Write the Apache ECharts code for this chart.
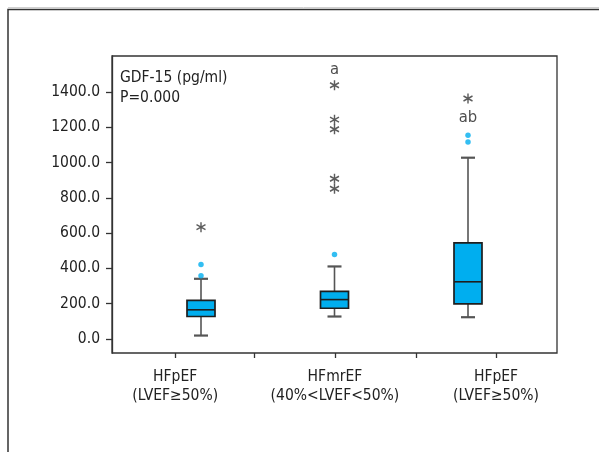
<!DOCTYPE html>
<html><head><meta charset="utf-8">
<script src="https://cdn.jsdelivr.net/npm/echarts@6/dist/echarts.min.js"></script>
<style>html,body{margin:0;padding:0;background:#fff}#c{width:599px;height:452px}</style>
</head><body><div id="c"></div>
<script>
// ---- data ----
const groupLabels = ['HFpEF\n(LVEF≥50%)', 'HFmrEF\n(40%<LVEF<50%)', 'HFpEF\n(LVEF≥50%)'];
const boxSlots = [2, 5, 8];                       // slot on hidden 0..10 axis
const boxStats = [                                 // min, Q1, median, Q3, max
  [19, 127, 165, 218, 341],
  [127, 174, 223, 270, 411],
  [123, 199, 324, 545, 1028]
];
const outlierDots = [[422, 358], [479], [1155, 1117]];
const extremeStars = [[634], [1439, 1244, 1189, 909, 852], [1364]];
const sigLabels = ['', 'a', 'ab'];
const sigValues = [null, 1530, 1256];
const yTicks = [0, 200, 400, 600, 800, 1000, 1200, 1400];
const labelPos = [14.2, 50.1, 86.3];
const tickPos = [14.2, 31.9, 50.1, 68.3, 86.3];

const FONT = "'Liberation Sans Narrow','DejaVu Sans Condensed','Roboto Condensed',sans-serif";
const FS = 15.5;

const dots = [], stars = [], sig = [];
boxSlots.forEach((s, i) => {
  outlierDots[i].forEach(v => dots.push([s, v]));
  extremeStars[i].forEach(v => stars.push([s, v]));
  if (sigValues[i] != null) sig.push({ value: [s, sigValues[i]], label: sigLabels[i] });
});

const chart = echarts.init(document.getElementById('c'));
chart.setOption({
  animation: false,
  textStyle: { fontFamily: FONT },
  grid: { left: 112, right: 42, top: 56, bottom: 99, show: true, borderColor: '#333', borderWidth: 1.3, containLabel: false },
  graphic: [
    { type: 'line', shape: { x1: 8, y1: 7.5, x2: 599, y2: 7.5 }, style: { stroke: '#d0d0d0', lineWidth: 1 } },
    { type: 'rect', shape: { x: 8, y: 9.5, width: 700, height: 600 }, style: { fill: 'none', stroke: '#333', lineWidth: 1.5 } },
    { type: 'text', left: 120, top: 67.5, style: { text: 'GDF-15 (pg/ml)\nP=0.000', font: FS + 'px ' + FONT, fill: '#222', lineHeight: 20.5 } }
  ],
  xAxis: [
    { type: 'category', data: ['0','1','2','3','4','5','6','7','8','9','10'], boundaryGap: false,
      axisLine: { show: false }, axisTick: { show: false }, axisLabel: { show: false }, splitLine: { show: false } },
    { type: 'value', min: 0, max: 100, position: 'bottom',
      axisLine: { show: false }, splitLine: { show: false },
      axisTick: { show: true, customValues: tickPos, length: 5, lineStyle: { color: '#333', width: 1.3 } },
      axisLabel: { show: true, customValues: labelPos, margin: 14, fontSize: FS, lineHeight: 19.5, color: '#222', fontFamily: FONT,
        formatter: v => { let b = 0; labelPos.forEach((p, i) => { if (Math.abs(p - v) < Math.abs(labelPos[b] - v)) b = i; }); return groupLabels[b]; } } }
  ],
  yAxis: {
    type: 'value', min: -80, max: 1605,
    splitLine: { show: false },
    axisLine: { show: true, lineStyle: { color: '#333', width: 1.3 } },
    axisTick: { show: true, customValues: yTicks, length: 6, lineStyle: { color: '#333', width: 1.3 } },
    axisLabel: { show: true, customValues: yTicks, margin: 12, fontSize: FS, color: '#222', fontFamily: FONT, formatter: v => v.toFixed(1) }
  },
  series: [
    {
      type: 'custom', xAxisIndex: 0,
      data: boxSlots.map((s, i) => [s].concat(boxStats[i])),
      encode: { x: 0, y: [1, 2, 3, 4, 5] },
      renderItem: (params, api) => {
        const x = api.value(0);
        const c = [1, 2, 3, 4, 5].map(i => api.coord([x, api.value(i)]));
        const [pMin, pQ1, pMd, pQ3, pMax] = c;
        const cx = pMax[0], hw = 14, cw = 7;
        const g = { stroke: '#555', lineWidth: 1.6 };
        return { type: 'group', children: [
          { type: 'line', shape: { x1: cx, y1: pMax[1], x2: cx, y2: pQ3[1] }, style: g },
          { type: 'line', shape: { x1: cx, y1: pQ1[1], x2: cx, y2: pMin[1] }, style: g },
          { type: 'line', shape: { x1: cx - cw, y1: pMax[1], x2: cx + cw, y2: pMax[1] }, style: { stroke: '#555', lineWidth: 2.2 } },
          { type: 'line', shape: { x1: cx - cw, y1: pMin[1], x2: cx + cw, y2: pMin[1] }, style: { stroke: '#555', lineWidth: 2.2 } },
          { type: 'rect', shape: { x: cx - hw, y: pQ3[1], width: 2 * hw, height: pQ1[1] - pQ3[1] }, style: { fill: '#00AEEF', stroke: '#1e1e1e', lineWidth: 1.7 } },
          { type: 'line', shape: { x1: cx - hw, y1: pMd[1], x2: cx + hw, y2: pMd[1] }, style: { stroke: '#1e1e1e', lineWidth: 1.6 } }
        ] };
      }
    },
    { type: 'scatter', data: dots, symbol: 'circle', symbolSize: 5.5, itemStyle: { color: '#00AEEF' } },
    { type: 'scatter', data: stars, symbol: 'path://M5,0L5,10M0.7,2.5L9.3,7.5M0.7,7.5L9.3,2.5', symbolSize: [9, 10],
      itemStyle: { color: 'none', borderColor: '#333', borderWidth: 1.5 } },
    { type: 'scatter', data: sig, symbolSize: 0,
      label: { show: true, position: 'inside', formatter: p => p.data.label, fontSize: 16.5, color: '#222', fontFamily: FONT } }
  ]
});
</script></body></html>
